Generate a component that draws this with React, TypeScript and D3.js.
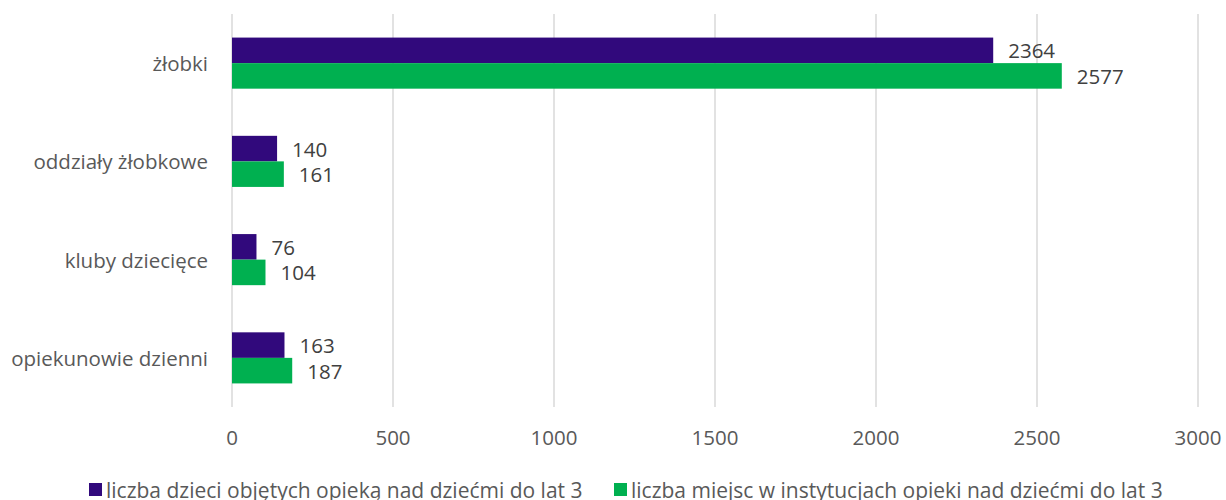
import React, { useRef, useEffect } from 'react';
import * as d3 from 'd3';

const categories = ['żłobki', 'oddziały żłobkowe', 'kluby dziecięce', 'opiekunowie dzienni'];
const seriesNames = [
  'liczba dzieci objętych opieką nad dziećmi do lat 3',
  'liczba miejsc w instytucjach opieki nad dziećmi do lat 3',
];
const children = [2364, 140, 76, 163];
const places = [2577, 161, 104, 187];
const xTicks = [0, 500, 1000, 1500, 2000, 2500, 3000];
const colors = ['#31097C', '#00B050'];

const FONT = '"Open Sans", sans-serif';
const TEXT = '#595959';

const App = () => {
  const ref = useRef<SVGSVGElement | null>(null);
  const width = 1226;
  const height = 500;
  const margin = { top: 14, right: 28, bottom: 93, left: 232 };

  useEffect(() => {
    if (!ref.current) {
      return;
    }
    const svg = d3.select(ref.current);
    svg.selectAll('*').remove();

    const x = d3
      .scaleLinear()
      .domain([0, 3000])
      .range([margin.left, margin.left + 966]);

    const y = d3
      .scaleBand()
      .domain(categories)
      .range([margin.top, height - margin.bottom])
      .padding(0);

    const groupH = y.bandwidth() * 0.52;
    const inner = d3
      .scaleBand()
      .domain(seriesNames)
      .range([0, groupH])
      .padding(0);

    // siatka pionowa
    svg
      .append('g')
      .selectAll('line')
      .data(xTicks)
      .join('line')
      .attr('x1', (d) => x(d))
      .attr('x2', (d) => x(d))
      .attr('y1', margin.top)
      .attr('y2', height - margin.bottom)
      .attr('stroke', '#D9D9D9')
      .attr('stroke-width', 1.5);

    const rows = categories.map((c, i) => ({
      cat: c,
      values: [children[i], places[i]],
    }));

    const group = svg
      .append('g')
      .selectAll('g')
      .data(rows)
      .join('g')
      .attr(
        'transform',
        (d) => `translate(0,${(y(d.cat) ?? 0) + (y.bandwidth() - groupH) / 2})`,
      );

    group
      .selectAll('rect')
      .data((d) => d.values.map((v, j) => ({ v, s: seriesNames[j], j })))
      .join('rect')
      .attr('x', x(0))
      .attr('y', (d) => inner(d.s) ?? 0)
      .attr('width', (d) => x(d.v) - x(0))
      .attr('height', inner.bandwidth())
      .attr('fill', (d) => colors[d.j]);

    group
      .selectAll('text')
      .data((d) => d.values.map((v, j) => ({ v, s: seriesNames[j] })))
      .join('text')
      .attr('x', (d) => x(d.v) + 15)
      .attr('y', (d) => (inner(d.s) ?? 0) + inner.bandwidth() / 2)
      .attr('dominant-baseline', 'central')
      .attr('font-family', FONT)
      .attr('font-size', 20.5)
      .attr('fill', '#404040')
      .text((d) => d.v);

    // etykiety kategorii
    svg
      .append('g')
      .selectAll('text')
      .data(categories)
      .join('text')
      .attr('x', 208)
      .attr('y', (d) => (y(d) ?? 0) + y.bandwidth() / 2)
      .attr('text-anchor', 'end')
      .attr('dominant-baseline', 'central')
      .attr('font-family', FONT)
      .attr('font-size', 20.5)
      .attr('fill', TEXT)
      .text((d) => d);

    // etykiety osi X
    svg
      .append('g')
      .selectAll('text')
      .data(xTicks)
      .join('text')
      .attr('x', (d) => x(d))
      .attr('y', 437)
      .attr('text-anchor', 'middle')
      .attr('dominant-baseline', 'central')
      .attr('font-family', FONT)
      .attr('font-size', 20.5)
      .attr('fill', TEXT)
      .text((d) => d);

    // legenda
    const legendX = [89, 614];
    const legend = svg
      .append('g')
      .selectAll('g')
      .data(seriesNames)
      .join('g')
      .attr('transform', (_, i) => `translate(${legendX[i]},490)`);

    legend
      .append('rect')
      .attr('x', 0)
      .attr('y', -7)
      .attr('width', 13)
      .attr('height', 13)
      .attr('fill', (_, i) => colors[i]);

    legend
      .append('text')
      .attr('x', 17)
      .attr('y', 0)
      .attr('dominant-baseline', 'central')
      .attr('font-family', FONT)
      .attr('font-size', 21)
      .attr('fill', TEXT)
      .text((d) => d);
  }, []);

  return (
    <svg
      ref={ref}
      width={width}
      height={height}
      style={{ position: 'absolute', left: 0, top: 0, background: '#fff' }}
    />
  );
};

export default App;
